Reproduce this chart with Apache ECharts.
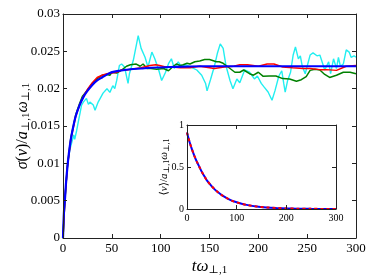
<!DOCTYPE html>
<html><head><meta charset="utf-8">
<script src="https://cdn.jsdelivr.net/npm/echarts@6/dist/echarts.min.js"></script>
<style>html,body{margin:0;padding:0;background:#fff}#c{width:374px;height:280px}</style>
</head><body><div id="c"></div>
<script>
// ---- data (time t in units of 1/ω, value) ----
const mainXTicks = [0, 50, 100, 150, 200, 250, 300];
const mainYTicks = [0, 0.005, 0.01, 0.015, 0.02, 0.025, 0.03];
const insetXTicks = [0, 100, 200, 300];
const insetYTicks = [0, 0.5, 1];

const cyan = [[0,0],[1,0.0033],[2,0.005],[3,0.007],[5,0.0102],[7,0.0118],[9,0.0128],[11,0.0138],[12,0.0132],[14,0.0144],[16,0.0158],[17.4,0.0167],[19,0.0178],[20.8,0.0182],[24,0.0187],[26,0.0179],[27.6,0.0182],[31,0.0178],[32.8,0.0171],[36,0.0182],[38,0.018],[41,0.0194],[45,0.02],[48,0.0195],[51,0.0204],[53,0.02],[55,0.0211],[57.7,0.0231],[60,0.0233],[63,0.0229],[66.6,0.0207],[68,0.022],[69,0.0222],[72,0.0238],[77,0.0271],[80,0.0254],[84,0.0242],[87,0.0229],[91,0.0249],[94,0.024],[98,0.0225],[101,0.0211],[105,0.0222],[108,0.02335],[111,0.024],[114,0.0227],[118,0.0236],[121,0.023],[126,0.0232],[131,0.0229],[137,0.0225],[142,0.0218],[146,0.0207],[147.5,0.0197],[151,0.0212],[155,0.023],[158,0.0247],[161,0.026],[164,0.0254],[167,0.023],[171,0.0211],[174,0.02],[178,0.0213],[181,0.0208],[186,0.0225],[191,0.0222],[196,0.0213],[199,0.0217],[203,0.0207],[206,0.0202],[210,0.01955],[214,0.01845],[217,0.0197],[221,0.0217],[224,0.0224],[226,0.0207],[227.5,0.01955],[230,0.0211],[233,0.0222],[235.6,0.02447],[238,0.02558],[241,0.024],[243,0.0244],[245,0.023],[248,0.022],[250,0.023],[253,0.0245],[256,0.0248],[260,0.0244],[263,0.0245],[266,0.0233],[268,0.0225],[272,0.0236],[274,0.022],[277,0.024],[280,0.0227],[282,0.0242],[284,0.023],[287,0.0233],[290,0.0252],[293,0.0249],[295,0.0242],[298,0.0244],[300,0.0242]];

const green = [[0,0],[2,0.0053],[4.5,0.0097],[8,0.0134],[13,0.0165],[17,0.018],[20,0.019],[25,0.0198],[30,0.0207],[35,0.0213],[40,0.0218],[45,0.0219],[48,0.0218],[50,0.0222],[55,0.0221],[60,0.0225],[62,0.0227],[65,0.023],[69,0.0232],[75,0.0233],[79,0.023],[82,0.0233],[86,0.0227],[90,0.0227],[96,0.0226],[103,0.0227],[108,0.0224],[113,0.023],[116,0.0233],[120,0.0231],[123,0.0232],[127,0.0234],[130,0.0233],[135,0.0236],[140,0.0237],[145,0.0239],[150,0.0239],[157,0.0236],[160,0.0236],[164,0.0234],[168,0.023],[172,0.0226],[176,0.0222],[181,0.0222],[185,0.0225],[191,0.022],[195,0.0218],[200,0.0222],[205,0.02165],[211,0.0217],[218,0.0217],[225,0.02135],[232,0.0213],[239,0.021],[244,0.0212],[249,0.0216],[253,0.02245],[258,0.0226],[263,0.0225],[268,0.0219],[273,0.0215],[280,0.0218],[287,0.0222],[294,0.0222],[300,0.022]];

const red = [[0,0],[2,0.0052],[4.5,0.0095],[8,0.0132],[13,0.0163],[17,0.0178],[21,0.019],[25,0.0199],[30,0.0208],[35,0.0215],[40,0.0218],[45,0.022],[50,0.0221],[55,0.0222],[60,0.0225],[65,0.0225],[70,0.0226],[80,0.0228],[89,0.0231],[95,0.0232],[99,0.0231],[105,0.0229],[112,0.0229],[120,0.0228],[130,0.0228],[140,0.023],[150,0.0228],[155,0.0227],[165,0.0229],[175,0.023],[181,0.0232],[189,0.0232],[200,0.023],[209,0.0233],[216,0.0233],[225,0.0229],[235,0.0228],[246,0.0227],[253,0.0227],[263,0.02255],[270,0.02255],[280,0.02245],[290,0.023],[300,0.0231]];

const blue = [[0,0],[1,0.0035],[2,0.0052],[3,0.0072],[4.5,0.0095],[6,0.0113],[8,0.0132],[10,0.0146],[13,0.0163],[17,0.0178],[21,0.0189],[25,0.0197],[30,0.0205],[35,0.0211],[40,0.0215],[48,0.0221],[58,0.0224],[69,0.0226],[80,0.0227],[90,0.0228],[110,0.0229],[140,0.023],[200,0.023],[300,0.023]];

const insetBlue = [[0,0.91],[5,0.8],[10,0.71],[15,0.63],[20,0.56],[25,0.5],[30,0.44],[35,0.39],[40,0.34],[50,0.27],[60,0.21],[70,0.165],[80,0.13],[90,0.1],[100,0.08],[110,0.063],[120,0.049],[140,0.03],[160,0.019],[180,0.012],[200,0.007],[220,0.004],[250,0.002],[300,0.0005]];
const insetRed = [[0,0.91],[5,0.8],[10,0.71],[15,0.63],[20,0.56],[25,0.5],[30,0.44],[35,0.39],[40,0.34],[50,0.27],[60,0.21],[70,0.165],[80,0.13],[90,0.1],[100,0.08],[110,0.063],[120,0.049],[140,0.03],[160,0.019],[180,0.012],[200,0.007],[220,0.004],[250,0.002],[300,0.0005]];

// ---- styling ----
const SERIF = "'Liberation Serif', 'DejaVu Serif', serif";
const AX = '#222';
function richSet(fs, ss, pad) {
  return {
    i: {fontFamily: SERIF, fontStyle: 'italic', fontSize: fs, lineHeight: fs + 2, verticalAlign: 'top', color: '#000'},
    r: {fontFamily: SERIF, fontSize: fs, lineHeight: fs + 2, verticalAlign: 'top', color: '#000'},
    s: {fontFamily: SERIF, fontSize: ss, lineHeight: ss + 1, padding: [pad, 0, 0, 0], verticalAlign: 'top', color: '#000'}
  };
}
function axisX(grid, pos, ticks, showLabel, fs, name, nameGap, rich) {
  return {
    type: 'value', gridIndex: grid, position: pos, z: 10,
    min: ticks[0], max: ticks[ticks.length - 1], interval: ticks[1] - ticks[0],
    axisLine: {show: true, onZero: false, lineStyle: {color: AX, width: 1}},
    axisTick: {show: true, inside: true, length: 4, lineStyle: {color: AX}},
    axisLabel: {show: showLabel, fontFamily: SERIF, fontSize: fs, color: '#000', margin: 4},
    splitLine: {show: false},
    name: name || '', nameLocation: 'middle', nameGap: nameGap || 0, nameMoveOverlap: false,
    nameTextStyle: {rich: rich || {}}
  };
}
function axisY(grid, pos, ticks, showLabel, fs, name, nameGap, rich) {
  return {
    type: 'value', gridIndex: grid, position: pos, z: 10,
    min: ticks[0], max: ticks[ticks.length - 1], interval: ticks[1] - ticks[0],
    axisLine: {show: true, onZero: false, lineStyle: {color: AX, width: 1}},
    axisTick: {show: true, inside: true, length: 4, lineStyle: {color: AX}},
    axisLabel: {show: showLabel, fontFamily: SERIF, fontSize: fs, color: '#000', margin: 3},
    splitLine: {show: false},
    name: name || '', nameLocation: 'middle', nameGap: nameGap || 0, nameRotate: 90, nameMoveOverlap: false,
    nameTextStyle: {rich: rich || {}}
  };
}

const mainYName = '{i|σ}{r|(}{i|v}{r|)/}{i|a}{s|⊥,1}{i|ω}{s|⊥,1}';
const mainXName = '{i|tω}{s|⊥,1}';
const insetYName = '{r|⟨}{i|v}{r|⟩/}{i|a}{s|⊥,1}{i|ω}{s|⊥,1}';

const chart = echarts.init(document.getElementById('c'), null, {renderer: 'canvas'});
chart.setOption({
  animation: false,
  backgroundColor: '#fff',
  grid: [
    {left: 63, top: 14, right: 18, bottom: 42, containLabel: false, outerBoundsMode: 'none'},
    {left: 187, top: 125, width: 149, height: 84, show: true, backgroundColor: '#fff', borderWidth: 0, containLabel: false, outerBoundsMode: 'none'}
  ],
  xAxis: [
    axisX(0, 'bottom', mainXTicks, true, 13, mainXName, 20, richSet(17, 11, 7)),
    axisX(0, 'top', mainXTicks, false, 13),
    axisX(1, 'bottom', insetXTicks, true, 10),
    axisX(1, 'top', insetXTicks, false, 10)
  ],
  yAxis: [
    axisY(0, 'left', mainYTicks, true, 13, mainYName, 30, richSet(16, 11, 6)),
    axisY(0, 'right', mainYTicks, false, 13),
    axisY(1, 'left', insetYTicks, true, 10, insetYName, 15, richSet(11, 8, 4)),
    axisY(1, 'right', insetYTicks, false, 10)
  ],
  series: [
    {type: 'line', xAxisIndex: 0, yAxisIndex: 0, data: cyan, showSymbol: false, lineStyle: {color: '#22eef0', width: 1.4}, z: 2},
    {type: 'line', xAxisIndex: 0, yAxisIndex: 0, data: green, showSymbol: false, lineStyle: {color: '#008000', width: 1.5}, z: 3},
    {type: 'line', xAxisIndex: 0, yAxisIndex: 0, data: red, showSymbol: false, lineStyle: {color: '#ff0000', width: 1.5}, z: 4},
    {type: 'line', xAxisIndex: 0, yAxisIndex: 0, data: blue, showSymbol: false, smooth: 0.3, lineStyle: {color: '#0000ff', width: 2.2}, z: 5},
    {type: 'line', xAxisIndex: 2, yAxisIndex: 2, data: insetBlue, showSymbol: false, smooth: 0.3, lineStyle: {color: '#0000ff', width: 2}, z: 6},
    {type: 'line', xAxisIndex: 2, yAxisIndex: 2, data: insetRed, showSymbol: false, smooth: 0.3, lineStyle: {color: '#ff0000', width: 2, type: [3, 3]}, z: 7}
  ]
});
</script>
</body></html>
